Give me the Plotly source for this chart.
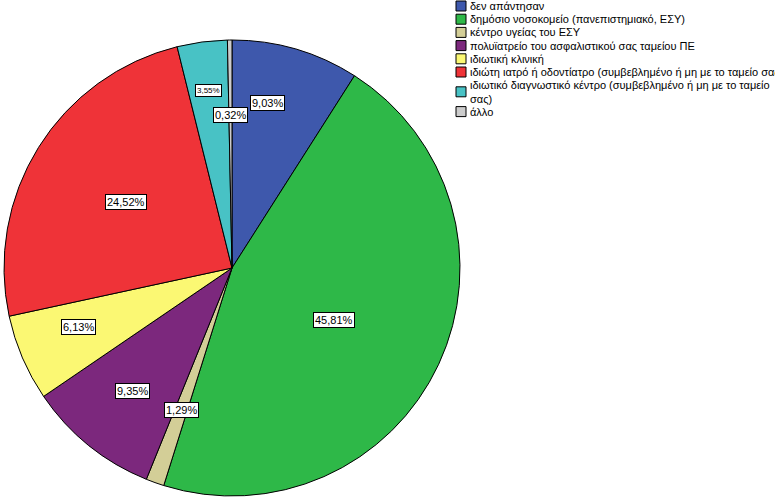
import math
import plotly.graph_objects as go

# ---- data ----
categories = [
    "δεν απάντησαν",
    "δημόσιο νοσοκομείο (πανεπιστημιακό, ΕΣΥ)",
    "κέντρο υγείας του ΕΣΥ",
    "πολυϊατρείο του ασφαλιστικού σας ταμείου ΠΕ",
    "ιδιωτική κλινική",
    "ιδιώτη ιατρό ή οδοντίατρο (συμβεβλημένο ή μη με το ταμείο σας)",
    "ιδιωτικό διαγνωστικό κέντρο (συμβεβλημένο ή μη με το ταμείο<br>σας)",
    "άλλο",
]
percentages = [9.03, 45.81, 1.29, 9.35, 6.13, 24.52, 3.55, 0.32]
pct_labels = ["9,03%", "45,81%", "1,29%", "9,35%", "6,13%", "24,52%", "3,55%", "0,32%"]

# ---- style ----
colors = ["#3E58AC", "#2EB848", "#D3CE97", "#7C287D", "#FBF873", "#EF3338", "#48C2C5", "#CCCCCC"]
label_radius = [0.74, 0.50, 0.66, 0.695, 0.72, 0.55, 0.785, 0.67]
label_angle_shift = [-4, 2, 0, 0, 2.2, 0, 0, 0]  # degrees
label_size = [11, 11, 11, 11, 11, 11, 8, 11]
W, H = 775, 498
CX, CY, R = 232, 268, 228
FONT = "Liberation Sans, Arial, sans-serif"

fig = go.Figure(go.Pie(
    values=percentages,
    labels=[c.replace("<br>", " ") for c in categories],
    marker=dict(colors=colors, line=dict(color="black", width=1)),
    sort=False, direction="clockwise", rotation=0,
    textinfo="none", hoverinfo="label+percent",
    showlegend=False,
    domain=dict(x=[(CX - R) / W, (CX + R) / W], y=[(H - CY - R) / H, (H - CY + R) / H]),
))

annotations = []
shapes = []
total = sum(percentages)
cum = 0.0
for v, lab, rf, da, fs in zip(percentages, pct_labels, label_radius, label_angle_shift, label_size):
    mid = (cum + v / 2) / total * 2 * math.pi + math.radians(da)
    cum += v
    px = CX + rf * R * math.sin(mid)
    py = CY - rf * R * math.cos(mid)
    annotations.append(dict(
        x=px / W, y=1 - py / H, xref="paper", yref="paper", text=lab,
        xanchor="center", yanchor="middle",
        showarrow=False, font=dict(family=FONT, size=fs, color="black"),
        bgcolor="white", bordercolor="black", borderwidth=1, borderpad=1,
    ))

# custom compact legend
LX, LY0, STEP = 456, 6, 13.2
row = 0.0
for cat, col in zip(categories, colors):
    lines = cat.count("<br>") + 1
    yc = LY0 + row * STEP + (lines - 1) * STEP / 2
    shapes.append(dict(type="rect", xref="paper", yref="paper",
                       x0=LX / W, x1=(LX + 10) / W,
                       y0=1 - (yc + 5) / H, y1=1 - (yc - 5) / H,
                       fillcolor=col, line=dict(color="black", width=1)))
    annotations.append(dict(
        x=(LX + 12) / W, y=1 - yc / H, xref="paper", yref="paper",
        xanchor="left", yanchor="middle", align="left", text=cat,
        showarrow=False, font=dict(family=FONT, size=11, color="black"),
    ))
    row += lines

fig.update_layout(
    width=W, height=H, margin=dict(l=0, r=0, t=0, b=0),
    paper_bgcolor="white", plot_bgcolor="white",
    annotations=annotations, shapes=shapes,
    font=dict(family=FONT),
)
fig.write_html("out.html")
